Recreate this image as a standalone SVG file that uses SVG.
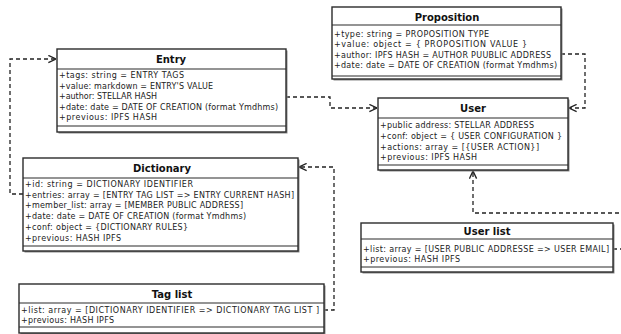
<svg xmlns="http://www.w3.org/2000/svg" width="621" height="334" viewBox="0 0 621 334">
<style>
.box{fill:#fff;stroke:#2b2b2b;stroke-width:1.4}
.shadow{fill:#8a8a8a;stroke:none}
.sep{stroke:#2b2b2b;stroke-width:1.2}
.title{font-family:"DejaVu Sans",sans-serif;font-weight:bold;font-size:10px;fill:#111;text-anchor:middle}
.attr{font-family:"DejaVu Sans",sans-serif;font-size:8px;fill:#222}
.conn{fill:none;stroke:#222;stroke-width:1.3;stroke-dasharray:4 3}
</style>
<defs>
<marker id="open" viewBox="0 0 10 10" refX="9.5" refY="5" markerWidth="9" markerHeight="9" markerUnits="userSpaceOnUse" orient="auto">
<path d="M1,1 L9.5,5 L1,9" fill="none" stroke="#222" stroke-width="1.5"/>
</marker>
</defs>
<rect width="621" height="334" fill="#fff"/>

<g id="connectors">
<path class="conn" d="M23,194 L10,194 L10,59 L56,59" marker-end="url(#open)"/>
<path class="conn" d="M286,97 L330,97 L330,108 L377,108" marker-end="url(#open)"/>
<path class="conn" d="M561,54 L585,54 L585,108 L569,108" marker-end="url(#open)"/>
<path class="conn" d="M324,310 L334,310 L334,167 L299,167" marker-end="url(#open)"/>
<path class="conn" d="M613,249 L626,249 L626,213 L473,213 L473,171" marker-end="url(#open)"/>
</g>

<g id="proposition">
<rect class="shadow" x="333.5" y="8.5" width="229" height="72"/>
<rect class="box" x="332" y="7" width="229" height="72"/>
<line class="sep" x1="332" y1="25" x2="561" y2="25"/>
<line class="sep" x1="332" y1="76" x2="561" y2="76"/>
<text class="title" x="447" y="21">Proposition</text>
<text class="attr" x="334" y="36.5" textLength="155" lengthAdjust="spacing">+type: string = PROPOSITION TYPE</text>
<text class="attr" x="334" y="47" textLength="193" lengthAdjust="spacing">+value: object = { PROPOSITION VALUE }</text>
<text class="attr" x="334" y="57.5" textLength="217" lengthAdjust="spacing">+author: IPFS HASH = AUTHOR PUUBLIC ADDRESS</text>
<text class="attr" x="334" y="68" textLength="223" lengthAdjust="spacing">+date: date = DATE OF CREATION (format Ymdhms)</text>
</g>

<g id="entry">
<rect class="shadow" x="58.5" y="50.5" width="229" height="83"/>
<rect class="box" x="57" y="49" width="229" height="83"/>
<line class="sep" x1="57" y1="69" x2="286" y2="69"/>
<line class="sep" x1="57" y1="126" x2="286" y2="126"/>
<text class="title" x="171" y="63">Entry</text>
<text class="attr" x="59" y="78" textLength="125" lengthAdjust="spacing">+tags: string = ENTRY TAGS</text>
<text class="attr" x="59" y="88.5" textLength="154" lengthAdjust="spacing">+value: markdown = ENTRY'S VALUE</text>
<text class="attr" x="59" y="99" textLength="98" lengthAdjust="spacing">+author: STELLAR HASH</text>
<text class="attr" x="59" y="109.5" textLength="219" lengthAdjust="spacing">+date: date = DATE OF CREATION (format Ymdhms)</text>
<text class="attr" x="59" y="120" textLength="98" lengthAdjust="spacing">+previous: IPFS HASH</text>
</g>

<g id="user">
<rect class="shadow" x="379.5" y="99.5" width="190" height="72"/>
<rect class="box" x="378" y="98" width="190" height="72"/>
<line class="sep" x1="378" y1="118" x2="568" y2="118"/>
<line class="sep" x1="378" y1="165" x2="568" y2="165"/>
<text class="title" x="473" y="112">User</text>
<text class="attr" x="380" y="128" textLength="154" lengthAdjust="spacing">+public address: STELLAR ADDRESS</text>
<text class="attr" x="380" y="139" textLength="182" lengthAdjust="spacing">+conf: object = { USER CONFIGURATION }</text>
<text class="attr" x="380" y="149.5" textLength="159" lengthAdjust="spacing">+actions: array = [{USER ACTION}]</text>
<text class="attr" x="380" y="160" textLength="97" lengthAdjust="spacing">+previous: IPFS HASH</text>
</g>

<g id="dictionary">
<rect class="shadow" x="24.5" y="159.5" width="275" height="93"/>
<rect class="box" x="23" y="158" width="275" height="93"/>
<line class="sep" x1="23" y1="178" x2="298" y2="178"/>
<line class="sep" x1="23" y1="246" x2="298" y2="246"/>
<text class="title" x="162" y="171.5">Dictionary</text>
<text class="attr" x="25" y="187" textLength="168" lengthAdjust="spacing">+id: string = DICTIONARY IDENTIFIER</text>
<text class="attr" x="25" y="197.5" textLength="269" lengthAdjust="spacing">+entries: array = [ENTRY TAG LIST =&gt; ENTRY CURRENT HASH]</text>
<text class="attr" x="25" y="208" textLength="218" lengthAdjust="spacing">+member_list: array = [MEMBER PUBLIC ADDRESS]</text>
<text class="attr" x="25" y="219" textLength="221" lengthAdjust="spacing">+date: date = DATE OF CREATION (format Ymdhms)</text>
<text class="attr" x="25" y="230" textLength="163" lengthAdjust="spacing">+conf: object = {DICTIONARY RULES}</text>
<text class="attr" x="25" y="241" textLength="96" lengthAdjust="spacing">+previous: HASH IPFS</text>
</g>

<g id="user-list">
<rect class="shadow" x="362.5" y="224.5" width="252" height="49"/>
<rect class="box" x="361" y="223" width="252" height="49"/>
<line class="sep" x1="361" y1="239" x2="613" y2="239"/>
<line class="sep" x1="361" y1="267" x2="613" y2="267"/>
<text class="title" x="487" y="235">User list</text>
<text class="attr" x="363" y="251.5" textLength="246" lengthAdjust="spacing">+list: array = [USER PUBLIC ADDRESSE =&gt; USER EMAIL]</text>
<text class="attr" x="363" y="262" textLength="97" lengthAdjust="spacing">+previous: HASH IPFS</text>
</g>

<g id="tag-list">
<rect class="shadow" x="20.5" y="285.5" width="305" height="49"/>
<rect class="box" x="19" y="284" width="305" height="49"/>
<line class="sep" x1="19" y1="303" x2="324" y2="303"/>
<line class="sep" x1="19" y1="327" x2="324" y2="327"/>
<text class="title" x="172" y="298">Tag list</text>
<text class="attr" x="21" y="313" textLength="298" lengthAdjust="spacing">+list: array = [DICTIONARY IDENTIFIER =&gt; DICTIONARY TAG LIST ]</text>
<text class="attr" x="21" y="323" textLength="93" lengthAdjust="spacing">+previous: HASH IPFS</text>
</g>
</svg>
